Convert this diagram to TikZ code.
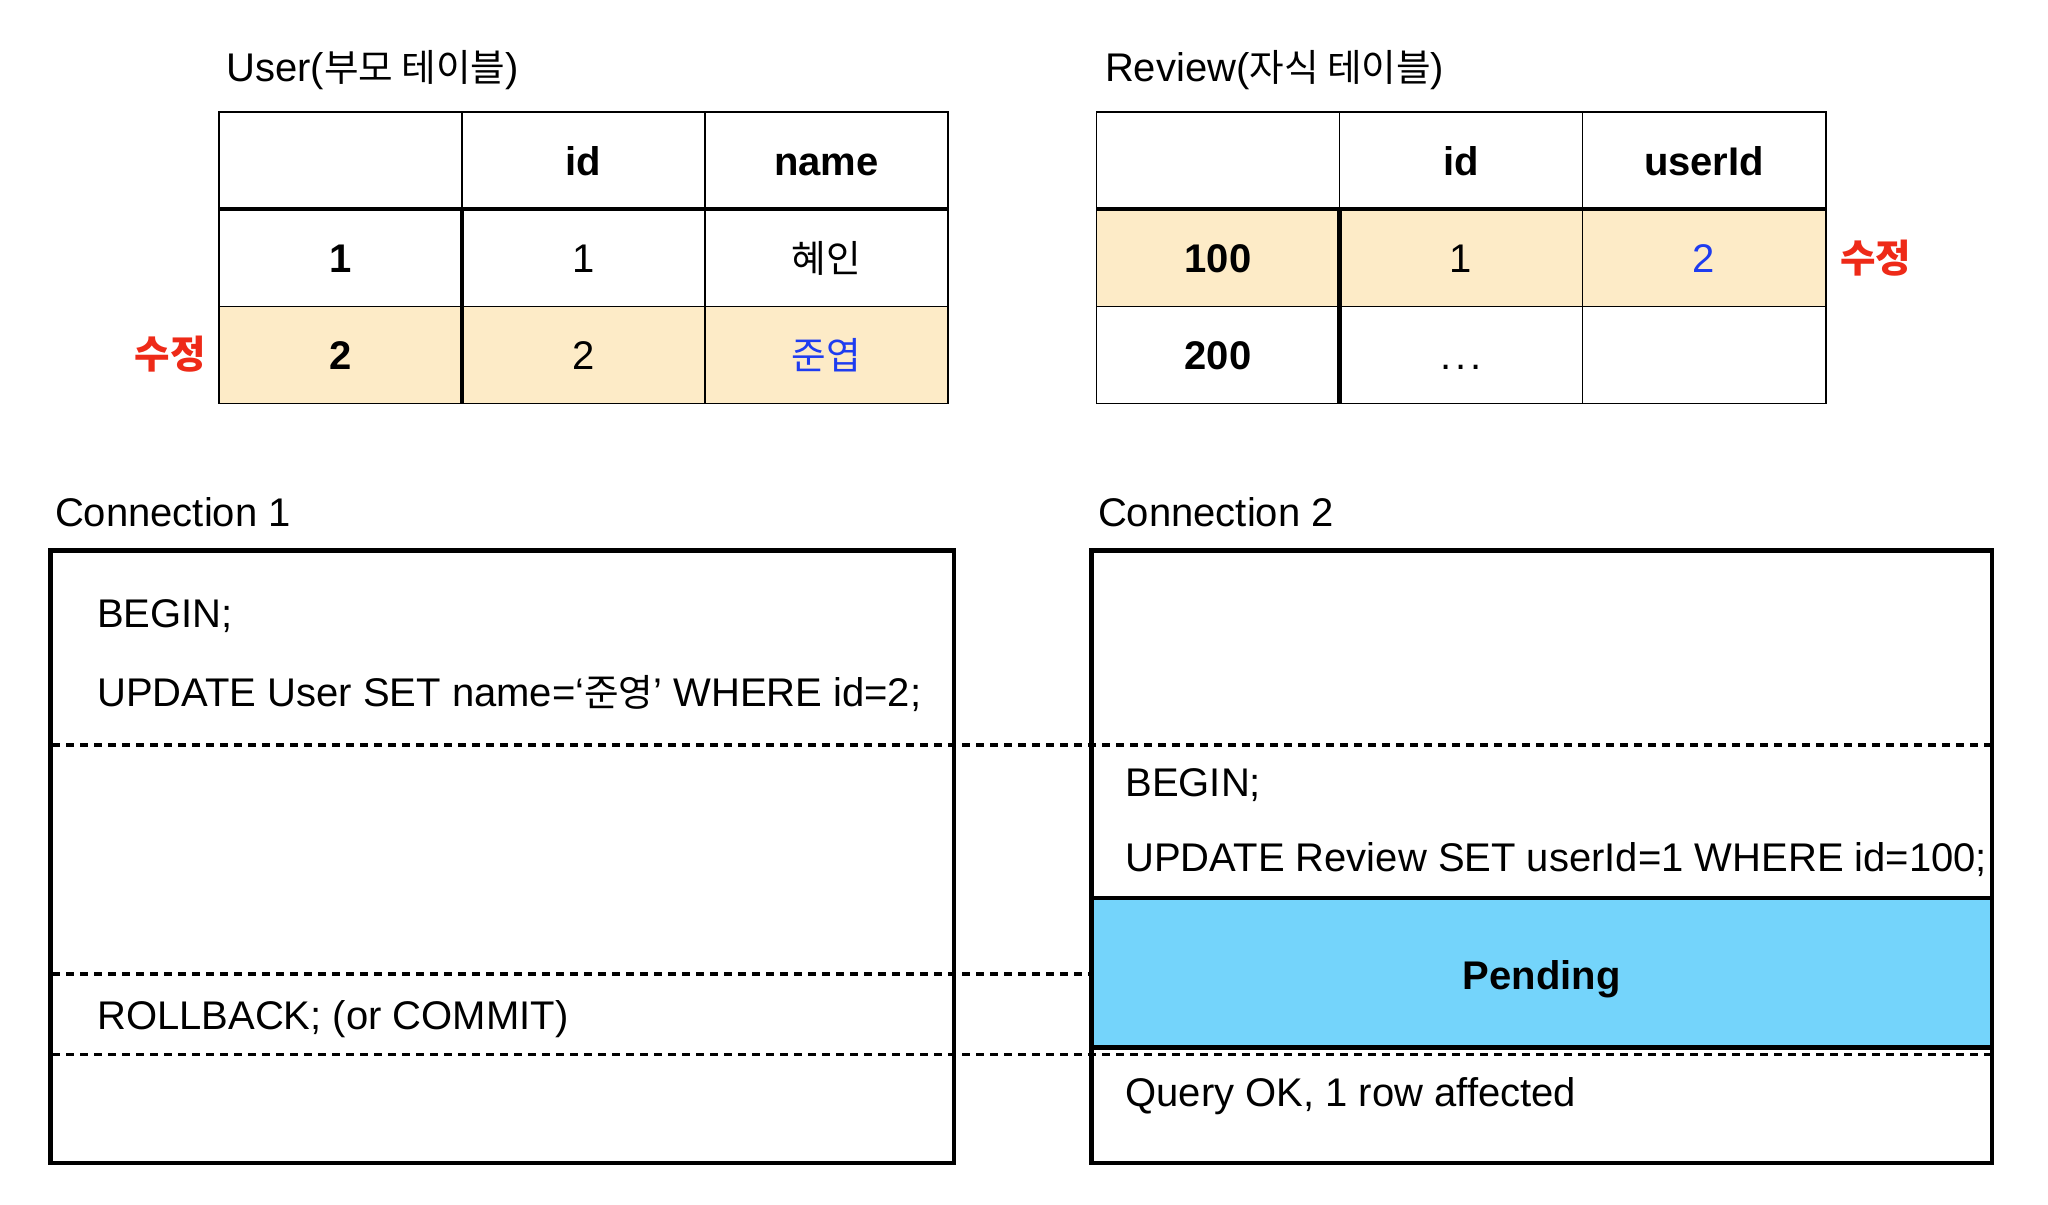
\documentclass[tikz,border=0pt]{standalone}
\usepackage{fontspec}
\setmainfont{Liberation Sans}
\newfontfamily\kr[Scale=0.94]{Noto Sans CJK KR}
\definecolor{cream}{HTML}{FDEBC7}
\definecolor{pendblue}{HTML}{74D4FB}
\definecolor{redtxt}{HTML}{EE2A18}
\definecolor{bluetxt}{HTML}{1E3CF0}
\begin{document}
\begin{tikzpicture}[x=0.5pt,y=-0.5pt,
  txt/.style={inner sep=0pt, font=\fontsize{20}{24}\selectfont},
  bold/.style={font=\fontsize{20}{24}\selectfont\bfseries},
  lt/.style={txt, anchor=base west},
  ct/.style={txt, anchor=base},
  gridline/.style={line width=0.8pt},
  heavyline/.style={line width=2.3pt},
  dashline/.style={line width=1.9pt, dash pattern=on 4.2pt off 2.8pt}]
\useasboundingbox (0,0) rectangle (2048,1204);

% ---------- User table ----------
\fill[cream] (219.2,306.5) rectangle (947.8,403.3);
\draw[gridline] (219.2,112.3) rectangle (947.8,403.3);
\draw[gridline] (462,112.3) -- (462,209);
\draw[gridline] (705,112.3) -- (705,403.3);
\draw[gridline] (219.2,306.5) -- (947.8,306.5);
\draw[heavyline] (219.2,209) -- (947.8,209);
\draw[heavyline] (462,209) -- (462,403.3);

\node[lt] (utitle) at (226,81.7) {User({\kr 부모 테이블})};
\node[ct,bold] (uh2) at (583.5,175) {id};
\node[ct,bold] (uh3) at (826.4,175) {name};
\node[ct,bold] (u11) at (340.6,272) {1};
\node[ct] (u12) at (583.5,272) {1};
\node[ct] (u13) at (826.4,272) {\kr 혜인};
\node[ct,bold] (u21) at (340.6,369) {2};
\node[ct] (u22) at (583.5,369) {2};
\node[ct,text=bluetxt] (u23) at (826.4,369) {\kr 준엽};
\node[ct,text=redtxt,font=\fontsize{20.5}{24}\selectfont] (umod) at (170,368) {\kr\bfseries 수정};

% ---------- Review table ----------
\fill[cream] (1096.5,209) rectangle (1826,306.5);
\draw[gridline] (1096.5,112.3) rectangle (1826,403.3);
\draw[gridline] (1339.5,112.3) -- (1339.5,209);
\draw[gridline] (1582.5,112.3) -- (1582.5,403.3);
\draw[gridline] (1096.5,306.5) -- (1826,306.5);
\draw[heavyline] (1096.5,209) -- (1826,209);
\draw[heavyline] (1339.5,209) -- (1339.5,403.3);

\node[lt] (rtitle) at (1104.7,81.7) {Review({\kr 자식 테이블})};
\node[ct,bold] (rh2) at (1461,175) {id};
\node[ct,bold] (rh3) at (1704,175) {userId};
\node[ct,bold] (r11) at (1218,272) {100};
\node[ct] (r12) at (1461,272) {1};
\node[ct,text=bluetxt] (r13) at (1704,272) {2};
\node[ct,bold] (r21) at (1218,369) {200};
\node[ct] (r22) at (1461,369) {.\kern2pt.\kern2pt.};
\node[ct,text=redtxt,font=\fontsize{20.5}{24}\selectfont] (rmod) at (1875.5,272) {\kr\bfseries 수정};

% ---------- Connections ----------
\node[lt] (c1label) at (54.7,526) {Connection 1};
\node[lt] (c2label) at (1097.7,526) {Connection 2};

\draw[dashline] (52,745) -- (1990,745);
\draw[dashline] (52,974) -- (1990,974);
\draw[dashline] (52,1054.5) -- (1990,1054.5);

\fill[pendblue] (1091.4,898) rectangle (1992,1047.6);
\draw[heavyline] (1091.4,898) -- (1992,898);
\draw[heavyline] (1091.4,1047.6) -- (1992,1047.6);

\draw[heavyline] (50.5,550.3) rectangle (954,1163);
\draw[heavyline] (1091.4,550.3) rectangle (1992,1163);

\node[lt] (c1begin) at (96.8,627) {BEGIN;};
\node[lt] (c1upd) at (96.8,706.5) {UPDATE User SET name=‘{\kr 준영}’ WHERE id=2;};
\node[lt] (c1rb) at (96.8,1029) {ROLLBACK; (or COMMIT)};

\node[lt] (c2begin) at (1125,796) {BEGIN;};
\node[lt] (c2upd) at (1125,871.7) {UPDATE Review SET userId=1 WHERE id=100;};
\node[ct,bold] (pend) at (1541.7,989) {Pending};
\node[lt] (c2ok) at (1125,1106) {Query OK, 1 row affected};
\end{tikzpicture}
\end{document}
